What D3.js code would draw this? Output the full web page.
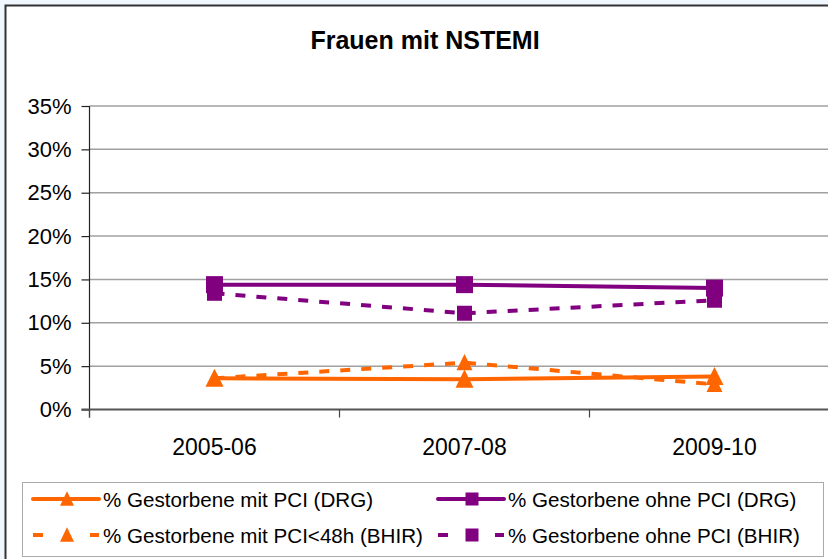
<!DOCTYPE html>
<html>
<head>
<meta charset="utf-8">
<script src="https://cdn.jsdelivr.net/npm/d3@7"></script>
<style>
  html, body { margin: 0; padding: 0; background: #f0f7fe; }
  svg { display: block; }
  text { font-family: "Liberation Sans", Arial, sans-serif; fill: #000; }
</style>
</head>
<body>
<svg id="chart" width="828" height="559"></svg>
<script>
const categories = ["2005-06", "2007-08", "2009-10"];
const yTicks = [0, 5, 10, 15, 20, 25, 30, 35];
const mitPciDRG = [3.6, 3.5, 3.8];
const ohnePciDRG = [14.4, 14.4, 14.0];
const mitPci48BHIR = [3.6, 5.4, 2.9];
const ohnePciBHIR = [13.4, 11.1, 12.6];
const seriesNames = [
  "% Gestorbene mit PCI (DRG)",
  "% Gestorbene ohne PCI (DRG)",
  "% Gestorbene mit PCI<48h (BHIR)",
  "% Gestorbene ohne PCI (BHIR)"
];

const ORANGE = "#FF6600", PURPLE = "#800080";
const series = [
  { name: seriesNames[0], values: mitPciDRG, color: ORANGE, dash: null, marker: "tri", size: 18 },
  { name: seriesNames[1], values: ohnePciDRG, color: PURPLE, dash: null, marker: "sq", size: 17 },
  { name: seriesNames[2], values: mitPci48BHIR, color: ORANGE, dash: "10,11", marker: "tri", size: 16 },
  { name: seriesNames[3], values: ohnePciBHIR, color: PURPLE, dash: "10,11", marker: "sq", size: 15 }
];

const svg = d3.select("#chart");

svg.append("rect").attr("x", 5.5).attr("y", 5.5).attr("width", 840).attr("height", 600)
  .attr("fill", "#fff").attr("stroke", "#333").attr("stroke-width", 2);

svg.append("text").attr("x", 425).attr("y", 49).attr("text-anchor", "middle")
  .style("font-size", "25px").style("font-weight", "bold").text("Frauen mit NSTEMI");

const x0 = 89.5, x1 = 839.5;
const x = d3.scaleBand().domain(categories).range([x0, x1]).paddingInner(0).paddingOuter(0);
const y = d3.scaleLinear().domain([0, 35]).range([409.5, 106]);
const cx = c => x(c) + x.bandwidth() / 2;

svg.append("g").selectAll("line").data(yTicks.filter(d => d > 0)).join("line")
  .attr("x1", x0).attr("x2", x1).attr("y1", d => y(d)).attr("y2", d => y(d))
  .attr("stroke", "#a0a0a0").attr("stroke-width", 1.5);

const yAxis = d3.axisLeft(y).tickValues(yTicks).tickFormat(d => d + "%").tickSize(8).tickPadding(10);
const gy = svg.append("g").attr("transform", `translate(${x0},0)`).call(yAxis);
gy.select(".domain").attr("stroke", "#222").attr("stroke-width", 1.2).attr("d", `M0,${y(35)}V${y(0) + 8}`);
gy.selectAll(".tick line").attr("stroke", "#222").attr("stroke-width", 1.2);
gy.selectAll(".tick text").style("font-size", "22px").style("font-family", "Liberation Sans, Arial, sans-serif").attr("fill", "#000");

const gx = svg.append("g").attr("transform", `translate(0,${y(0)})`);
gx.append("line").attr("x1", x0 - 8).attr("x2", x1).attr("y1", 0).attr("y2", 0)
  .attr("stroke", "#555").attr("stroke-width", 2);
const boundaries = categories.map(c => x(c)).concat([x1]);
gx.selectAll("line.tk").data(boundaries).join("line").attr("class", "tk")
  .attr("x1", d => d).attr("x2", d => d).attr("y1", 0).attr("y2", 8)
  .attr("stroke", "#444").attr("stroke-width", 1.2);
gx.selectAll("text").data(categories).join("text")
  .attr("x", d => cx(d)).attr("y", 45).attr("text-anchor", "middle")
  .style("font-size", "23px").text(d => d);

const triPath = s => { const h = s * 0.95; return `M0,${-h / 2 - 1}L${s / 2},${h / 2}L${-s / 2},${h / 2}Z`; };
const sqPath = s => `M${-s / 2},${-s / 2}h${s}v${s}h${-s}Z`;

const line = d3.line().x(d => cx(d.c)).y(d => y(d.v));

series.forEach(s => {
  const pts = categories.map((c, i) => ({ c, v: s.values[i] }));
  const g = svg.append("g");
  g.append("path").datum(pts).attr("d", line).attr("fill", "none")
    .attr("stroke", s.color).attr("stroke-width", 4)
    .attr("stroke-dasharray", s.dash);
  g.selectAll("path.m").data(pts).join("path").attr("class", "m")
    .attr("transform", d => `translate(${cx(d.c)},${y(d.v)})`)
    .attr("d", s.marker === "tri" ? triPath(s.size) : sqPath(s.size))
    .attr("fill", s.color);
});

svg.append("rect").attr("x", 22.5).attr("y", 482.5).attr("width", 801).attr("height", 74)
  .attr("fill", "#fff").attr("stroke", "#aaa").attr("stroke-width", 1);
const legendPos = [
  { lx: 33, ly: 499, tx: 103, ty: 506.5 },
  { lx: 438, ly: 499, tx: 508, ty: 506.5 },
  { lx: 33, ly: 535, tx: 103, ty: 542.5 },
  { lx: 438, ly: 535, tx: 508, ty: 542.5 }
];
series.forEach((s, i) => {
  const p = legendPos[i];
  const g = svg.append("g");
  if (s.dash) {
    g.append("line").attr("x1", p.lx).attr("x2", p.lx + 10).attr("y1", p.ly).attr("y2", p.ly)
      .attr("stroke", s.color).attr("stroke-width", 4);
    g.append("line").attr("x1", p.lx + 57).attr("x2", p.lx + 66).attr("y1", p.ly).attr("y2", p.ly)
      .attr("stroke", s.color).attr("stroke-width", 4);
  } else {
    g.append("line").attr("x1", p.lx).attr("x2", p.lx + 66).attr("y1", p.ly).attr("y2", p.ly)
      .attr("stroke", s.color).attr("stroke-width", 4).attr("stroke-linecap", "round");
  }
  g.append("path").attr("transform", `translate(${p.lx + 34},${p.ly})`)
    .attr("d", s.marker === "tri" ? triPath(14) : sqPath(13)).attr("fill", s.color);
  g.append("text").attr("x", p.tx).attr("y", p.ty).style("font-size", "20.6px").text(s.name);
});
</script>
</body>
</html>
